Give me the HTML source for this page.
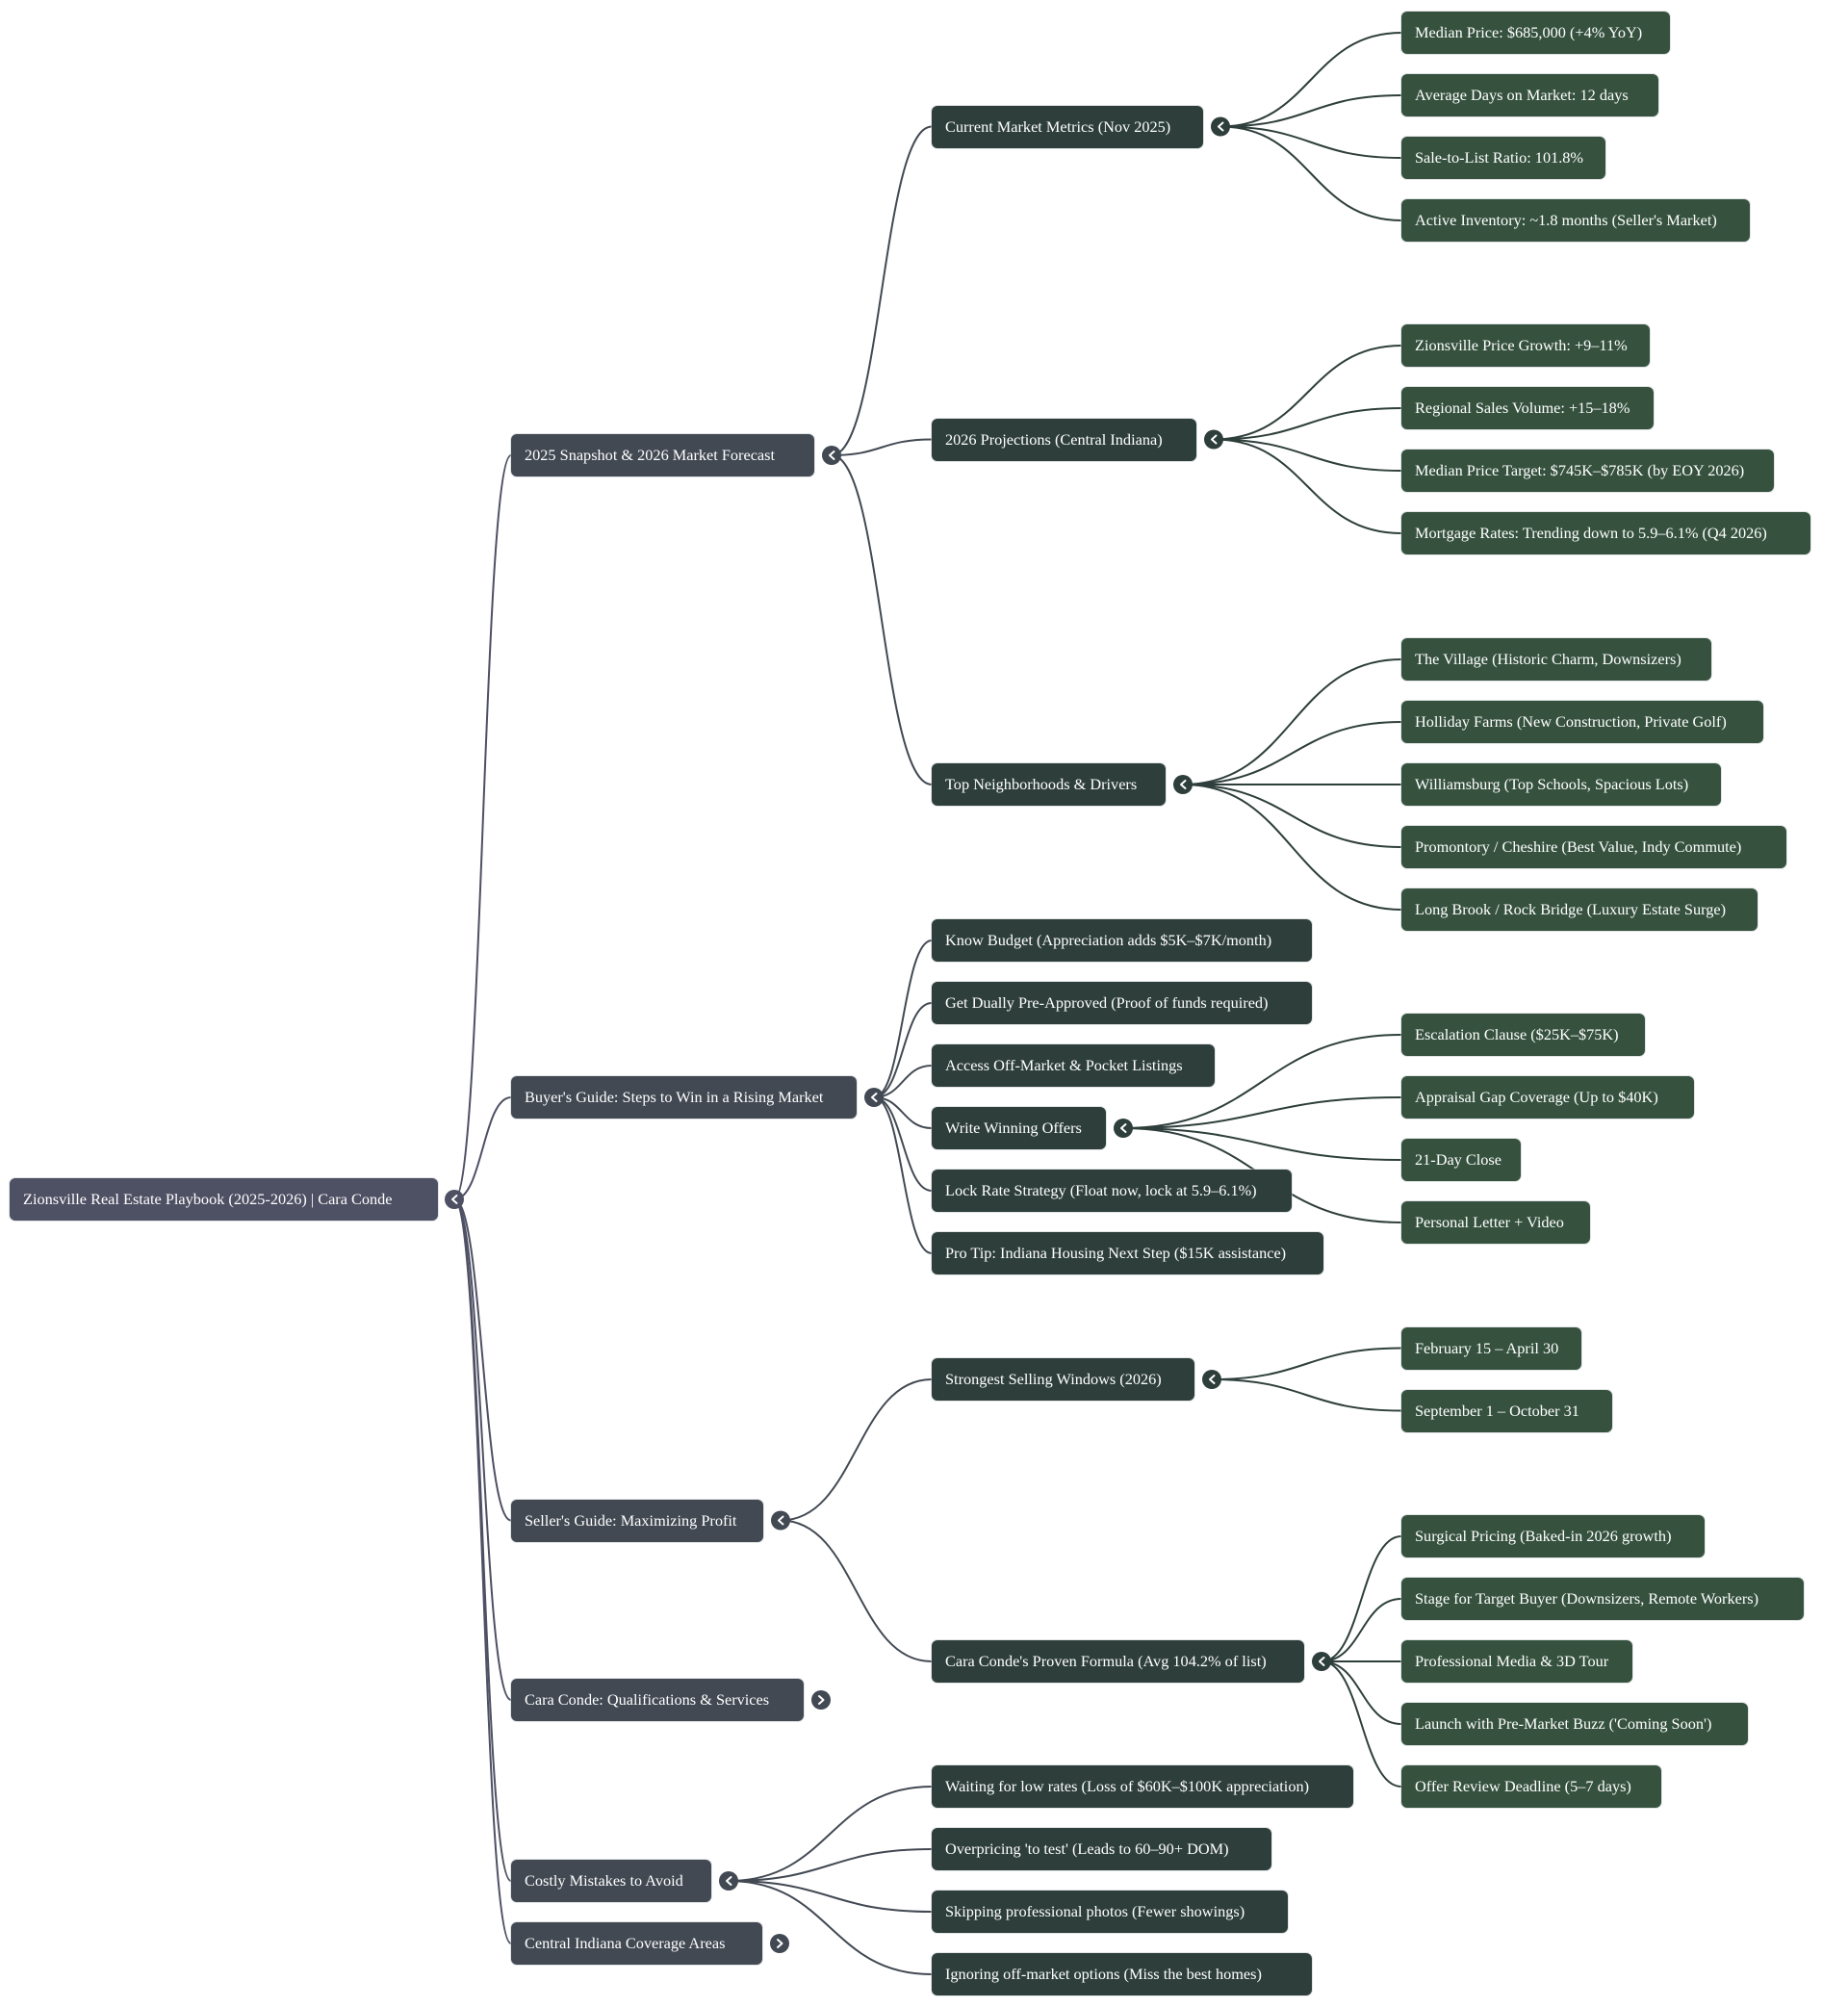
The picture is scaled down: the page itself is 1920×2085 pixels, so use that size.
<!DOCTYPE html>
<html>
<head>
<meta charset="utf-8">
<style>
html,body{margin:0;padding:0;background:#ffffff;}
body{width:1920px;height:2085px;position:relative;overflow:hidden;font-family:"Liberation Serif","Times New Roman",serif;}
svg.lines{position:absolute;left:0;top:0;}
.n{position:absolute;height:44px;line-height:44px;border-radius:6px;color:#ffffff;font-size:16.3px;padding-left:14px;box-sizing:border-box;white-space:nowrap;overflow:hidden;box-shadow:0 0 0 1px rgba(200,205,210,0.55);}
.r{background:#4e5064;}
.a{background:#424953;left:531px;}
.b{background:#2e3f3b;left:968px;}
.c{background:#36523f;left:1456px;}
</style>
</head>
<body>
<svg class="lines" width="1920" height="2085" viewBox="0 0 1920 2085" xmlns="http://www.w3.org/2000/svg">
<g fill="none" stroke-width="2">
<g stroke="#4e5064">
<path d="M472,1246 C501.5,1246 501.5,473 531,473"/>
<path d="M472,1246 C501.5,1246 501.5,1140 531,1140"/>
<path d="M472,1246 C501.5,1246 501.5,1579.5 531,1579.5"/>
<path d="M472,1246 C501.5,1246 501.5,1766 531,1766"/>
<path d="M472,1246 C501.5,1246 501.5,1954 531,1954"/>
<path d="M472,1246 C501.5,1246 501.5,2019 531,2019"/>
</g>
<g stroke="#424953">
<path d="M864,473 C916,473 916,131.5 968,131.5"/>
<path d="M864,473 C916,473 916,456.5 968,456.5"/>
<path d="M864,473 C916,473 916,815 968,815"/>
<path d="M908,1140 C938,1140 938,977 968,977"/>
<path d="M908,1140 C938,1140 938,1042 968,1042"/>
<path d="M908,1140 C938,1140 938,1107 968,1107"/>
<path d="M908,1140 C938,1140 938,1172 968,1172"/>
<path d="M908,1140 C938,1140 938,1237 968,1237"/>
<path d="M908,1140 C938,1140 938,1302 968,1302"/>
<path d="M811,1579.5 C889.5,1579.5 889.5,1433 968,1433"/>
<path d="M811,1579.5 C889.5,1579.5 889.5,1726 968,1726"/>
<path d="M757,1954 C862.5,1954 862.5,1856 968,1856"/>
<path d="M757,1954 C862.5,1954 862.5,1921 968,1921"/>
<path d="M757,1954 C862.5,1954 862.5,1986 968,1986"/>
<path d="M757,1954 C862.5,1954 862.5,2051 968,2051"/>
</g>
<g stroke="#2e3f3b">
<path d="M1268,131.5 C1362,131.5 1362,34 1456,34"/>
<path d="M1268,131.5 C1362,131.5 1362,99 1456,99"/>
<path d="M1268,131.5 C1362,131.5 1362,164 1456,164"/>
<path d="M1268,131.5 C1362,131.5 1362,229 1456,229"/>
<path d="M1261,456.5 C1358.5,456.5 1358.5,359 1456,359"/>
<path d="M1261,456.5 C1358.5,456.5 1358.5,424 1456,424"/>
<path d="M1261,456.5 C1358.5,456.5 1358.5,489 1456,489"/>
<path d="M1261,456.5 C1358.5,456.5 1358.5,554 1456,554"/>
<path d="M1229,815 C1342.5,815 1342.5,685 1456,685"/>
<path d="M1229,815 C1342.5,815 1342.5,750 1456,750"/>
<path d="M1229,815 C1342.5,815 1342.5,815 1456,815"/>
<path d="M1229,815 C1342.5,815 1342.5,880 1456,880"/>
<path d="M1229,815 C1342.5,815 1342.5,945 1456,945"/>
<path d="M1167,1172 C1311.5,1172 1311.5,1075 1456,1075"/>
<path d="M1167,1172 C1311.5,1172 1311.5,1140 1456,1140"/>
<path d="M1167,1172 C1311.5,1172 1311.5,1205 1456,1205"/>
<path d="M1167,1172 C1311.5,1172 1311.5,1270 1456,1270"/>
<path d="M1259,1433 C1357.5,1433 1357.5,1400.5 1456,1400.5"/>
<path d="M1259,1433 C1357.5,1433 1357.5,1465.5 1456,1465.5"/>
<path d="M1373,1726 C1414.5,1726 1414.5,1596 1456,1596"/>
<path d="M1373,1726 C1414.5,1726 1414.5,1661 1456,1661"/>
<path d="M1373,1726 C1414.5,1726 1414.5,1726 1456,1726"/>
<path d="M1373,1726 C1414.5,1726 1414.5,1791 1456,1791"/>
<path d="M1373,1726 C1414.5,1726 1414.5,1856 1456,1856"/>
</g>
</g>
<g stroke="#ffffff" stroke-width="2" fill="none" stroke-linecap="round" stroke-linejoin="round">
<circle cx="472" cy="1246" r="10" fill="#4e5064" stroke="none"/><polyline points="474.5,1242 470,1246 474.5,1250"/>
<circle cx="864" cy="473" r="10" fill="#424953" stroke="none"/><polyline points="866.5,469 862,473 866.5,477"/>
<circle cx="908" cy="1140" r="10" fill="#424953" stroke="none"/><polyline points="910.5,1136 906,1140 910.5,1144"/>
<circle cx="811" cy="1579.5" r="10" fill="#424953" stroke="none"/><polyline points="813.5,1575.5 809,1579.5 813.5,1583.5"/>
<circle cx="853" cy="1766" r="10" fill="#424953" stroke="none"/><polyline points="851,1762 855.5,1766 851,1770"/>
<circle cx="757" cy="1954" r="10" fill="#424953" stroke="none"/><polyline points="759.5,1950 755,1954 759.5,1958"/>
<circle cx="810" cy="2019" r="10" fill="#424953" stroke="none"/><polyline points="808,2015 812.5,2019 808,2023"/>
<circle cx="1268" cy="131.5" r="10" fill="#2e3f3b" stroke="none"/><polyline points="1270.5,127.5 1266,131.5 1270.5,135.5"/>
<circle cx="1261" cy="456.5" r="10" fill="#2e3f3b" stroke="none"/><polyline points="1263.5,452.5 1259,456.5 1263.5,460.5"/>
<circle cx="1229" cy="815" r="10" fill="#2e3f3b" stroke="none"/><polyline points="1231.5,811 1227,815 1231.5,819"/>
<circle cx="1167" cy="1172" r="10" fill="#2e3f3b" stroke="none"/><polyline points="1169.5,1168 1165,1172 1169.5,1176"/>
<circle cx="1259" cy="1433" r="10" fill="#2e3f3b" stroke="none"/><polyline points="1261.5,1429 1257,1433 1261.5,1437"/>
<circle cx="1373" cy="1726" r="10" fill="#2e3f3b" stroke="none"/><polyline points="1375.5,1722 1371,1726 1375.5,1730"/>
</g>
</svg>

<div class="n r" style="left:10px;top:1224px;width:445px;">Zionsville Real Estate Playbook (2025-2026) | Cara Conde</div>

<div class="n a" style="top:451px;width:315px;">2025 Snapshot &amp; 2026 Market Forecast</div>
<div class="n a" style="top:1118px;width:359px;">Buyer's Guide: Steps to Win in a Rising Market</div>
<div class="n a" style="top:1557.5px;width:262px;">Seller's Guide: Maximizing Profit</div>
<div class="n a" style="top:1744px;width:304px;">Cara Conde: Qualifications &amp; Services</div>
<div class="n a" style="top:1932px;width:208px;">Costly Mistakes to Avoid</div>
<div class="n a" style="top:1997px;width:261px;">Central Indiana Coverage Areas</div>

<div class="n b" style="top:109.5px;width:282px;">Current Market Metrics (Nov 2025)</div>
<div class="n b" style="top:434.5px;width:275px;">2026 Projections (Central Indiana)</div>
<div class="n b" style="top:793px;width:243px;">Top Neighborhoods &amp; Drivers</div>
<div class="n b" style="top:955px;width:395px;">Know Budget (Appreciation adds $5K–$7K/month)</div>
<div class="n b" style="top:1020px;width:395px;">Get Dually Pre-Approved (Proof of funds required)</div>
<div class="n b" style="top:1085px;width:294px;">Access Off-Market &amp; Pocket Listings</div>
<div class="n b" style="top:1150px;width:181px;">Write Winning Offers</div>
<div class="n b" style="top:1215px;width:374px;">Lock Rate Strategy (Float now, lock at 5.9–6.1%)</div>
<div class="n b" style="top:1280px;width:407px;">Pro Tip: Indiana Housing Next Step ($15K assistance)</div>
<div class="n b" style="top:1411px;width:273px;">Strongest Selling Windows (2026)</div>
<div class="n b" style="top:1704px;width:387px;">Cara Conde's Proven Formula (Avg 104.2% of list)</div>
<div class="n b" style="top:1834px;width:438px;">Waiting for low rates (Loss of $60K–$100K appreciation)</div>
<div class="n b" style="top:1899px;width:353px;">Overpricing 'to test' (Leads to 60–90+ DOM)</div>
<div class="n b" style="top:1964px;width:370px;">Skipping professional photos (Fewer showings)</div>
<div class="n b" style="top:2029px;width:395px;">Ignoring off-market options (Miss the best homes)</div>

<div class="n c" style="top:12px;width:279px;">Median Price: $685,000 (+4% YoY)</div>
<div class="n c" style="top:77px;width:267px;">Average Days on Market: 12 days</div>
<div class="n c" style="top:142px;width:212px;">Sale-to-List Ratio: 101.8%</div>
<div class="n c" style="top:207px;width:362px;">Active Inventory: ~1.8 months (Seller's Market)</div>
<div class="n c" style="top:337px;width:258px;">Zionsville Price Growth: +9–11%</div>
<div class="n c" style="top:402px;width:262px;">Regional Sales Volume: +15–18%</div>
<div class="n c" style="top:467px;width:387px;">Median Price Target: $745K–$785K (by EOY 2026)</div>
<div class="n c" style="top:532px;width:425px;">Mortgage Rates: Trending down to 5.9–6.1% (Q4 2026)</div>
<div class="n c" style="top:663px;width:322px;">The Village (Historic Charm, Downsizers)</div>
<div class="n c" style="top:728px;width:376px;">Holliday Farms (New Construction, Private Golf)</div>
<div class="n c" style="top:793px;width:332px;">Williamsburg (Top Schools, Spacious Lots)</div>
<div class="n c" style="top:858px;width:400px;">Promontory / Cheshire (Best Value, Indy Commute)</div>
<div class="n c" style="top:923px;width:370px;">Long Brook / Rock Bridge (Luxury Estate Surge)</div>
<div class="n c" style="top:1053px;width:253px;">Escalation Clause ($25K–$75K)</div>
<div class="n c" style="top:1118px;width:304px;">Appraisal Gap Coverage (Up to $40K)</div>
<div class="n c" style="top:1183px;width:124px;">21-Day Close</div>
<div class="n c" style="top:1248px;width:196px;">Personal Letter + Video</div>
<div class="n c" style="top:1378.5px;width:187px;">February 15 – April 30</div>
<div class="n c" style="top:1443.5px;width:219px;">September 1 – October 31</div>
<div class="n c" style="top:1574px;width:315px;">Surgical Pricing (Baked-in 2026 growth)</div>
<div class="n c" style="top:1639px;width:418px;">Stage for Target Buyer (Downsizers, Remote Workers)</div>
<div class="n c" style="top:1704px;width:240px;">Professional Media &amp; 3D Tour</div>
<div class="n c" style="top:1769px;width:360px;">Launch with Pre-Market Buzz ('Coming Soon')</div>
<div class="n c" style="top:1834px;width:270px;">Offer Review Deadline (5–7 days)</div>
</body>
</html>
